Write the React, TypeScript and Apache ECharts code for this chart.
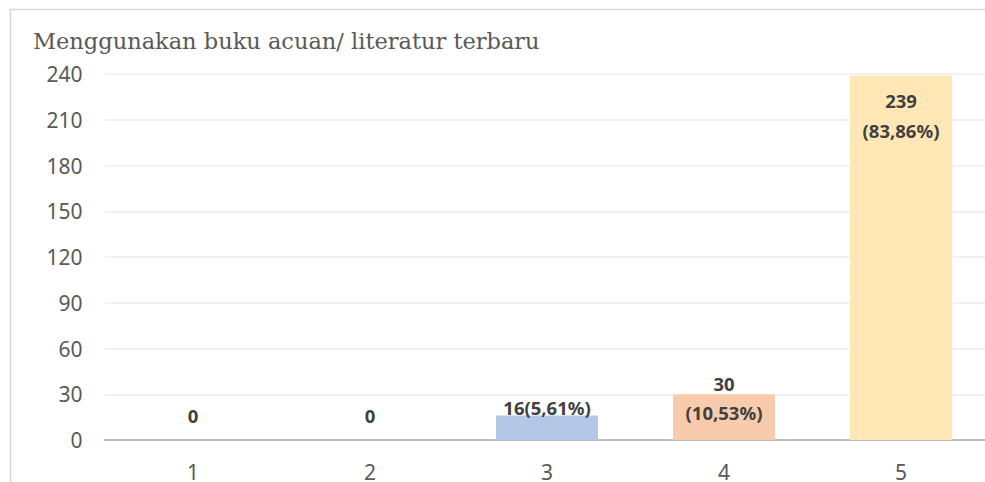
import React, { useEffect, useRef } from "react";
import * as echarts from "echarts";

const titleText = "Menggunakan buku acuan/ literatur terbaru";
const categories = ["1", "2", "3", "4", "5"];
const values = [0, 0, 16, 30, 239];
const percents = ["", "", "5,61%", "10,53%", "83,86%"];
const yTicks = [0, 30, 60, 90, 120, 150, 180, 210, 240];

// styling (not data)
const barColors = ["#b4c7e7", "#b4c7e7", "#b4c7e7", "#f8cbad", "#ffe8b6"];
const labelOffsetY = [-24.5, -24.5, -8.5, 3.5, 39.5];
const labelTwoLine = [false, false, false, true, true];

export default function App() {
  const ref = useRef<HTMLDivElement>(null);
  useEffect(() => {
    if (!ref.current) return;
    const chart = echarts.init(ref.current, null, { renderer: "svg" });
    const data = values.map((v, i) => {
      const txt = percents[i]
        ? `${v}${labelTwoLine[i] ? "\n" : ""}(${percents[i]})`
        : `${v}`;
      return {
        value: v,
        itemStyle: { color: barColors[i] },
        label: {
          show: true,
          position: ["50%", labelOffsetY[i]],
          align: "center",
          verticalAlign: "middle",
          formatter: () => txt,
          lineHeight: i === 4 ? 30 : 29,
        },
      };
    });
    chart.setOption({
      animation: false,
      backgroundColor: "#ffffff",
      textStyle: { fontFamily: "Noto Sans" },
      graphic: [
        {
          type: "rect",
          shape: { x: 10.5, y: 9.5, width: 1100, height: 600 },
          style: { fill: "none", stroke: "#d9d9d9", lineWidth: 1.5 },
          silent: true,
        },
        {
          type: "text",
          left: 33,
          top: 29,
          style: {
            text: titleText,
            fontFamily: "DejaVu Serif",
            fontSize: 22.5,
            fill: "#595959",
          },
        },
      ],
      grid: { left: 104.5, top: 74, width: 885, bottom: 40, containLabel: false },
      xAxis: {
        type: "category",
        data: categories,
        axisLine: { show: true, lineStyle: { color: "#bfbfbf", width: 2 } },
        axisTick: { show: false },
        axisLabel: { color: "#595959", fontSize: 21, margin: 21, fontFamily: "Noto Sans" },
      },
      yAxis: {
        type: "value",
        min: yTicks[0],
        max: yTicks[yTicks.length - 1],
        interval: yTicks[1] - yTicks[0],
        axisLine: { show: false },
        axisTick: { show: false },
        splitLine: { lineStyle: { color: "#eeeeee", width: 1.5 } },
        axisLabel: { color: "#595959", fontSize: 21, margin: 22, fontFamily: "Noto Sans" },
      },
      series: [
        {
          type: "bar",
          data,
          barWidth: 102,
          label: {
            show: true,
            color: "#404040",
            fontWeight: "bold",
            fontSize: 18.5,
            fontFamily: "Noto Sans",
          },
        },
      ],
    });
    return () => chart.dispose();
  }, []);
  return (
    <div style={{ position: "fixed", left: 0, top: 0, width: 985, height: 482, overflow: "hidden", background: "#fff" }}>
      <div ref={ref} style={{ width: 1000, height: 482 }} />
    </div>
  );
}
